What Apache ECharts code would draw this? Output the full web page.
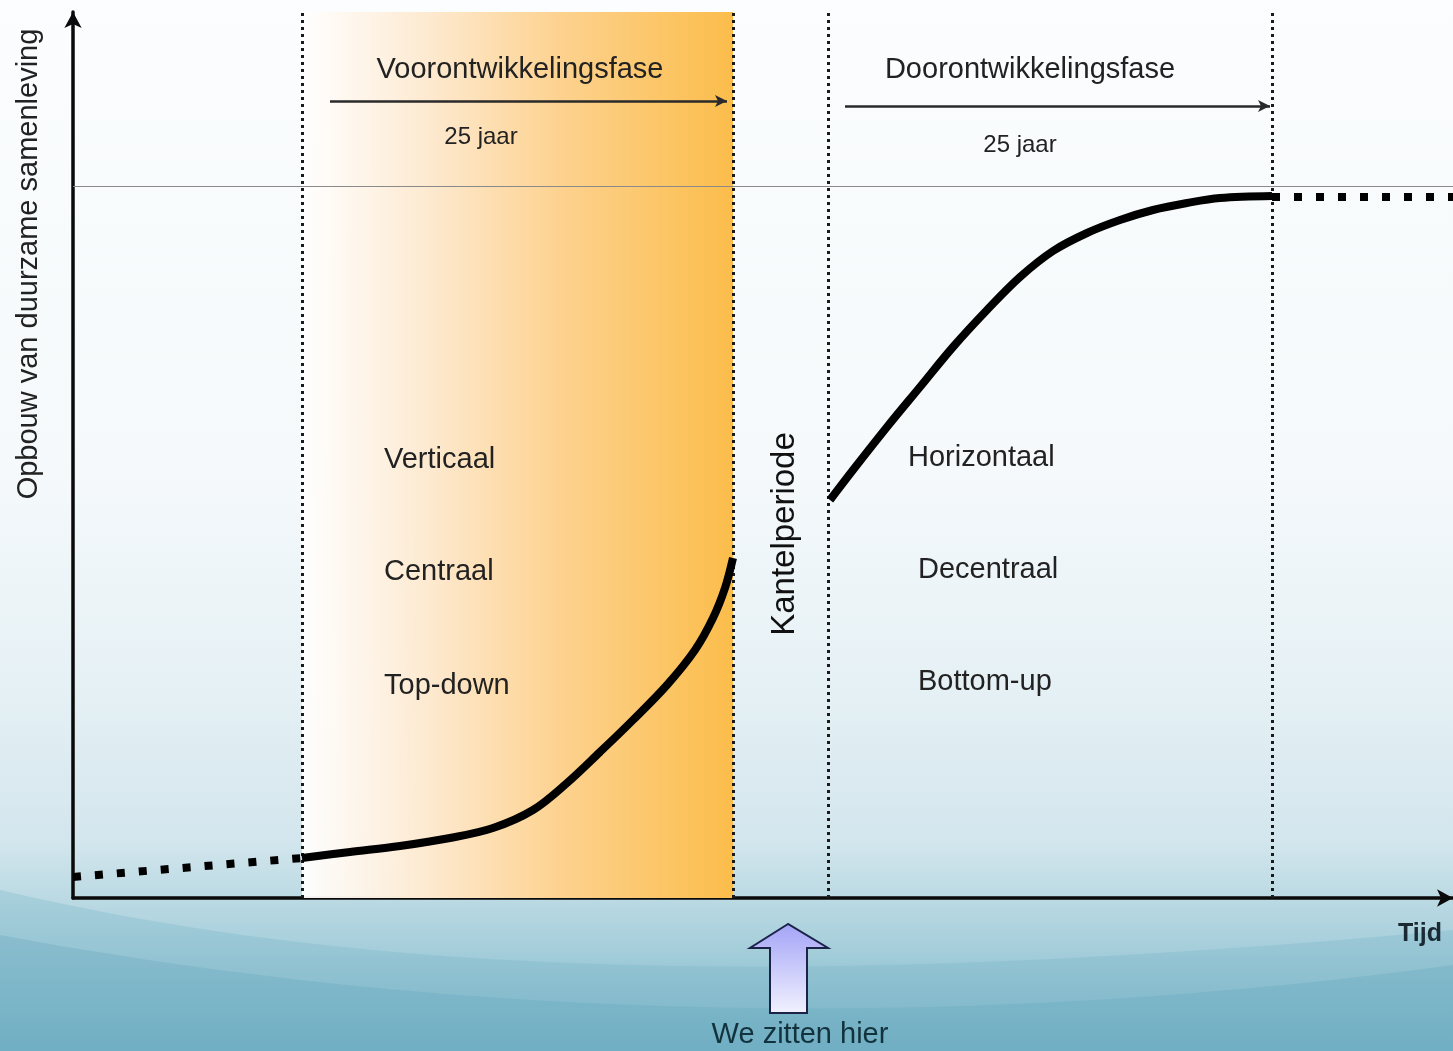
<!DOCTYPE html>
<html>
<head>
<meta charset="utf-8">
<script src="https://cdn.jsdelivr.net/npm/echarts@6/dist/echarts.min.js"></script>
<style>
html,body{margin:0;padding:0;background:#fff;}
#chart{width:1453px;height:1051px;}
</style>
</head>
<body>
<div id="chart"></div>
<script>
// ---- data (conceptual units: x = time, y = opbouw) ----
const xMax = 1380;
const yMax = 886;
const phaseBounds = [229, 660, 755, 1199];     // Voor start, Voor end, Door start, Door end
const targetLevel = 712;                       // horizontal reference level
const preTrend = [[0, 21], [229, 40]];         // dotted, before Voorontwikkelingsfase
const voorCurve = [[229, 40], [277, 46], [327, 52], [377, 60], [420, 70], [460, 88], [494, 115], [527, 146], [560, 178], [594, 213], [622, 248], [640, 280], [652, 310], [660, 340]];
const doorCurve = [[757, 398], [780, 428], [814, 471], [847, 511], [880, 551], [914, 588], [947, 621], [980, 647], [1014, 665], [1047, 678], [1080, 688], [1114, 695], [1147, 700], [1199, 702]];
const postTrend = [[1199, 701], [1380, 701]];  // dotted, after Doorontwikkelingsfase
const phaseArrows = [
  { from: [257, 797], to: [654, 797] },
  { from: [772, 792], to: [1197, 792] }
];

const chart = echarts.init(document.getElementById('chart'), null, { renderer: 'canvas' });
const FONT = '"Liberation Sans", Arial, sans-serif';

// cubic bezier band helper for background waves (decoration only)
function bezierPts(p0, p1, p2, p3, n) {
  const out = [];
  for (let i = 0; i <= n; i++) {
    const t = i / n, u = 1 - t;
    out.push([
      u*u*u*p0[0] + 3*u*u*t*p1[0] + 3*u*t*t*p2[0] + t*t*t*p3[0],
      u*u*u*p0[1] + 3*u*u*t*p1[1] + 3*u*t*t*p2[1] + t*t*t*p3[1]
    ]);
  }
  return out;
}
const wave1 = bezierPts([0, 890], [300, 960], [700, 1000], [1453, 930], 40).concat([[1453, 1051], [0, 1051]]);
const wave2 = bezierPts([0, 935], [400, 1010], [900, 1040], [1453, 965], 40).concat([[1453, 1051], [0, 1051]]);

const option = {
  animation: false,
  grid: { left: 73, right: 0, top: 12, bottom: 153 },
  xAxis: {
    type: 'value', min: 0, max: xMax,
    axisLine: { show: true, symbol: ['none', 'arrow'], symbolSize: [13, 16], lineStyle: { color: '#0a0a0a', width: 3.5 } },
    axisTick: { show: false }, axisLabel: { show: false }, splitLine: { show: false }
  },
  yAxis: {
    type: 'value', min: 0, max: yMax,
    axisLine: { show: true, symbol: ['none', 'arrow'], symbolSize: [13, 16], lineStyle: { color: '#0a0a0a', width: 3.5 } },
    axisTick: { show: false }, axisLabel: { show: false }, splitLine: { show: false }
  },
  graphic: [
    {
      type: 'rect', z: -100, silent: true,
      shape: { x: 0, y: 0, width: 1453, height: 1051 },
      style: {
        fill: new echarts.graphic.LinearGradient(0, 0, 0, 1, [
          { offset: 0, color: '#fbfdfe' },
          { offset: 0.45, color: '#f5f9fb' },
          { offset: 0.65, color: '#e6f1f5' },
          { offset: 0.8, color: '#d3e6ed' },
          { offset: 0.88, color: '#b0d4df' },
          { offset: 1, color: '#76b3c6' }
        ])
      }
    },
    { type: 'polygon', z: -99, silent: true, shape: { points: wave1 }, style: { fill: 'rgba(120,180,200,0.3)' } },
    { type: 'polygon', z: -98, silent: true, shape: { points: wave2 }, style: { fill: 'rgba(100,165,190,0.3)' } },
    // up arrow "We zitten hier"
    {
      type: 'polygon', z: 10,
      shape: { points: [[788, 924], [750, 948], [770, 948], [770, 1013], [807, 1013], [807, 948], [828, 948]] },
      style: {
        fill: new echarts.graphic.LinearGradient(0, 0, 0, 1, [
          { offset: 0, color: '#a3a3f7' },
          { offset: 1, color: '#f2f2ff' }
        ]),
        stroke: '#1c2248', lineWidth: 2
      }
    },
    { type: 'text', z: 10, x: 800, y: 1035, style: { text: 'We zitten hier', font: '29px ' + FONT, fill: '#12323d', textAlign: 'center', textVerticalAlign: 'middle' } },
    { type: 'text', z: 10, x: 1420, y: 934, style: { text: 'Tijd', font: 'bold 25px ' + FONT, fill: '#1a2a32', textAlign: 'center', textVerticalAlign: 'middle' } },
    { type: 'text', z: 10, x: 29, y: 264, rotation: Math.PI / 2, style: { text: 'Opbouw van duurzame samenleving', font: '29px ' + FONT, fill: '#222', textAlign: 'center', textVerticalAlign: 'middle' } },
    { type: 'text', z: 10, x: 785, y: 534, rotation: Math.PI / 2, style: { text: 'Kantelperiode', font: '33px ' + FONT, fill: '#111', textAlign: 'center', textVerticalAlign: 'middle' } },
    { type: 'text', z: 10, x: 520, y: 70, style: { text: 'Voorontwikkelingsfase', font: '29px ' + FONT, fill: '#222', textAlign: 'center', textVerticalAlign: 'middle' } },
    { type: 'text', z: 10, x: 481, y: 137, style: { text: '25 jaar', font: '24px ' + FONT, fill: '#222', textAlign: 'center', textVerticalAlign: 'middle' } },
    { type: 'text', z: 10, x: 1030, y: 70, style: { text: 'Doorontwikkelingsfase', font: '29px ' + FONT, fill: '#222', textAlign: 'center', textVerticalAlign: 'middle' } },
    { type: 'text', z: 10, x: 1020, y: 145, style: { text: '25 jaar', font: '24px ' + FONT, fill: '#222', textAlign: 'center', textVerticalAlign: 'middle' } },
    { type: 'text', z: 10, x: 384, y: 460, style: { text: 'Verticaal', font: '29px ' + FONT, fill: '#222', textAlign: 'left', textVerticalAlign: 'middle' } },
    { type: 'text', z: 10, x: 384, y: 572, style: { text: 'Centraal', font: '29px ' + FONT, fill: '#222', textAlign: 'left', textVerticalAlign: 'middle' } },
    { type: 'text', z: 10, x: 384, y: 686, style: { text: 'Top-down', font: '29px ' + FONT, fill: '#222', textAlign: 'left', textVerticalAlign: 'middle' } },
    { type: 'text', z: 10, x: 908, y: 458, style: { text: 'Horizontaal', font: '29px ' + FONT, fill: '#222', textAlign: 'left', textVerticalAlign: 'middle' } },
    { type: 'text', z: 10, x: 918, y: 570, style: { text: 'Decentraal', font: '29px ' + FONT, fill: '#222', textAlign: 'left', textVerticalAlign: 'middle' } },
    { type: 'text', z: 10, x: 918, y: 682, style: { text: 'Bottom-up', font: '29px ' + FONT, fill: '#222', textAlign: 'left', textVerticalAlign: 'middle' } }
  ],
  series: [
    {
      type: 'line', data: [], silent: true, z: 1,
      markArea: {
        silent: true,
        itemStyle: {
          color: new echarts.graphic.LinearGradient(0, 0, 1, 0, [
            { offset: 0, color: 'rgba(255,255,255,0.95)' },
            { offset: 0.3, color: '#fde9cf' },
            { offset: 0.6, color: '#fdd28f' },
            { offset: 1, color: '#fbbd4b' }
          ])
        },
        data: [[{ xAxis: phaseBounds[0], yAxis: 0 }, { xAxis: phaseBounds[1], yAxis: yMax }]]
      }
    },
    {
      type: 'line', data: [], silent: true, z: 3,
      markLine: {
        silent: true, symbol: ['none', 'none'], label: { show: false },
        lineStyle: { color: '#1a1a1a', width: 3, type: [3, 4] },
        data: phaseBounds.map(v => ({ xAxis: v }))
      }
    },
    {
      type: 'line', data: [], silent: true, z: 2,
      markLine: {
        silent: true, symbol: ['none', 'none'], label: { show: false },
        lineStyle: { color: '#8a8a8a', width: 1.2, type: 'solid' },
        data: [{ yAxis: targetLevel }]
      }
    },
    {
      type: 'line', data: [], silent: true, z: 4,
      markLine: {
        silent: true, symbol: ['none', 'arrow'], symbolSize: [9, 12], label: { show: false },
        lineStyle: { color: '#2a2a2a', width: 2.5, type: 'solid' },
        data: phaseArrows.map(a => [{ coord: a.from }, { coord: a.to }])
      }
    },
    {
      type: 'line', data: preTrend, showSymbol: false, z: 5,
      lineStyle: { color: '#000', width: 8, type: [8, 14], cap: 'butt' }
    },
    {
      type: 'line', data: postTrend, showSymbol: false, z: 5,
      lineStyle: { color: '#000', width: 8, type: [8, 14], cap: 'butt' }
    },
    {
      type: 'line', data: voorCurve, showSymbol: false, smooth: 0.35, z: 6,
      lineStyle: { color: '#000', width: 8, cap: 'butt' }
    },
    {
      type: 'line', data: doorCurve, showSymbol: false, smooth: 0.35, z: 6,
      lineStyle: { color: '#000', width: 8, cap: 'butt' }
    }
  ]
};
chart.setOption(option);
</script>
</body>
</html>
